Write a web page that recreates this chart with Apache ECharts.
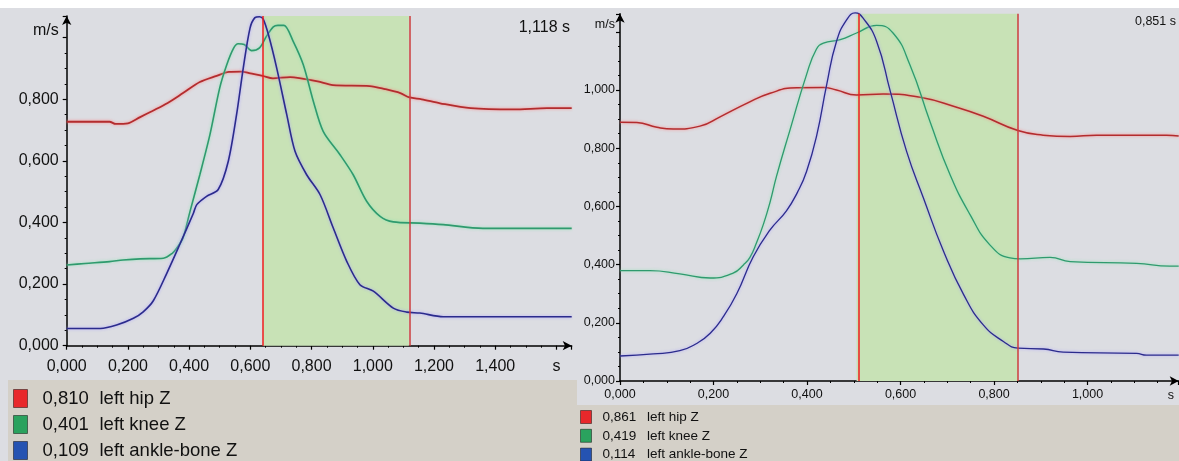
<!DOCTYPE html>
<html>
<head>
<meta charset="utf-8">
<script src="https://cdn.jsdelivr.net/npm/echarts@6/dist/echarts.min.js"></script>
<style>
html,body{margin:0;padding:0;background:#fff;}
#c{width:1179px;height:461px;}
</style>
</head>
<body>
<div id="c"></div>
<script>
// ---------- DATA ----------
const seriesNames = ['left hip Z', 'left knee Z', 'left ankle-bone Z'];

// Left chart: [time s, speed m/s]
const leftHip = [[0,0.727],[0.14,0.727],[0.16,0.72],[0.2,0.722],[0.24,0.742],[0.28,0.762],[0.33,0.788],[0.38,0.82],[0.435,0.856],[0.49,0.876],[0.53,0.889],[0.57,0.89],[0.6,0.884],[0.64,0.876],[0.674,0.868],[0.73,0.872],[0.76,0.869],[0.82,0.858],[0.87,0.846],[0.99,0.843],[1.04,0.833],[1.09,0.82],[1.12,0.806],[1.16,0.8],[1.22,0.787],[1.32,0.771],[1.46,0.767],[1.57,0.771],[1.65,0.771]];
const leftKnee = [[0,0.262],[0.06,0.267],[0.14,0.273],[0.184,0.278],[0.24,0.282],[0.316,0.284],[0.345,0.3],[0.36,0.317],[0.38,0.35],[0.403,0.436],[0.435,0.555],[0.468,0.685],[0.5,0.837],[0.523,0.912],[0.545,0.965],[0.56,0.98],[0.58,0.978],[0.604,0.958],[0.63,0.967],[0.653,1.005],[0.675,1.035],[0.69,1.04],[0.71,1.04],[0.74,0.988],[0.773,0.912],[0.806,0.793],[0.838,0.696],[0.893,0.62],[0.936,0.555],[0.98,0.469],[1.024,0.42],[1.067,0.402],[1.154,0.398],[1.23,0.393],[1.36,0.381],[1.65,0.381]];
const leftAnkle = [[0,0.056],[0.11,0.056],[0.163,0.067],[0.218,0.089],[0.25,0.11],[0.283,0.146],[0.327,0.235],[0.37,0.33],[0.414,0.43],[0.425,0.458],[0.457,0.485],[0.495,0.507],[0.528,0.599],[0.555,0.75],[0.577,0.902],[0.599,1.031],[0.615,1.065],[0.63,1.068],[0.642,1.06],[0.659,1.01],[0.686,0.902],[0.719,0.75],[0.746,0.631],[0.784,0.555],[0.828,0.49],[0.871,0.382],[0.915,0.274],[0.958,0.198],[1.002,0.177],[1.067,0.122],[1.111,0.109],[1.154,0.106],[1.23,0.094],[1.65,0.094]];
const leftCursor = [0.642, 1.118];            // s
const leftCursorValues = [0.810, 0.401, 0.109]; // m/s at cursor

// Right chart
const rightHip = [[0,0.889],[0.036,0.888],[0.079,0.872],[0.114,0.866],[0.171,0.876],[0.214,0.908],[0.271,0.954],[0.321,0.989],[0.378,1.008],[0.435,1.009],[0.463,1.0],[0.506,0.983],[0.563,0.986],[0.642,0.975],[0.72,0.941],[0.777,0.91],[0.851,0.861],[0.905,0.845],[0.963,0.84],[1.019,0.845],[1.169,0.845],[1.195,0.842]];
const rightKnee = [[0,0.379],[0.064,0.379],[0.128,0.368],[0.193,0.354],[0.242,0.371],[0.264,0.399],[0.278,0.425],[0.292,0.475],[0.307,0.54],[0.321,0.615],[0.335,0.705],[0.364,0.865],[0.399,1.053],[0.42,1.14],[0.435,1.161],[0.471,1.173],[0.506,1.196],[0.549,1.222],[0.584,1.196],[0.62,1.087],[0.663,0.892],[0.706,0.709],[0.749,0.571],[0.791,0.468],[0.834,0.423],[0.856,0.42],[0.92,0.425],[0.963,0.41],[1.105,0.404],[1.176,0.395],[1.195,0.395]];
const rightAnkle = [[0,0.086],[0.071,0.093],[0.128,0.104],[0.164,0.129],[0.193,0.164],[0.221,0.221],[0.25,0.301],[0.285,0.427],[0.321,0.519],[0.356,0.585],[0.38,0.65],[0.399,0.72],[0.421,0.846],[0.442,1.018],[0.463,1.167],[0.485,1.242],[0.503,1.265],[0.52,1.247],[0.549,1.167],[0.578,0.996],[0.613,0.789],[0.649,0.629],[0.692,0.446],[0.735,0.297],[0.777,0.193],[0.82,0.136],[0.851,0.113],[0.906,0.11],[0.948,0.099],[1.105,0.095],[1.126,0.089],[1.195,0.089]];
const rightCursor = [0.506, 0.851];
const rightCursorValues = [0.861, 0.419, 0.114];

// axis settings
const leftXMax = 1.65, leftYMax = 1.07, leftXUnitTick = 1.6, leftYUnitTick = 1.0;
const rightXMax = 1.195, rightYMax = 1.262, rightYUnitTick = 1.2;

// ---------- STYLE ----------
const FONT = 'Liberation Sans, Arial, sans-serif';
const lineColors = ['#b32c2e', '#2f9a6e', '#2b2b8c'];
const haloColors = ['rgba(255,130,130,0.9)', 'rgba(140,230,180,0.9)', 'rgba(170,160,255,0.9)'];
const iconColors = ['#e8282b', '#2aa25e', '#2553b2'];
const fmt = v => v.toFixed(3).replace('.', ',');
const near = (a, b) => Math.abs(a - b) < 1e-6;

function xAxisCfg(grid, max, fontSize, margin, unitTick) {
  return {
    type: 'value', gridIndex: grid, min: 0, max: max, interval: 0.2,
    axisLine: { show: true, onZero: false, symbol: ['none', 'arrow'], symbolSize: [7, 9], lineStyle: { color: '#000', width: 1.5 } },
    axisTick: { show: true, length: 4, lineStyle: { color: '#000', width: 1.2 } },
    minorTick: { show: true, splitNumber: 4, length: 2, lineStyle: { color: '#000', width: 1 } },
    splitLine: { show: false },
    axisLabel: { fontFamily: FONT, fontSize: fontSize, color: '#111', margin: margin, showMaxLabel: false,
      formatter: v => (unitTick !== null && near(v, unitTick)) ? 's' : fmt(v) }
  };
}
function yAxisCfg(grid, max, fontSize, margin, unitTick, lift) {
  return {
    type: 'value', gridIndex: grid, min: 0, max: max, interval: 0.2,
    axisLine: { show: true, onZero: false, symbol: ['none', 'arrow'], symbolSize: [7, 9], lineStyle: { color: '#000', width: 1.5 } },
    axisTick: { show: true, length: 4, lineStyle: { color: '#000', width: 1.2 } },
    minorTick: { show: true, splitNumber: 4, length: 2, lineStyle: { color: '#000', width: 1 } },
    splitLine: { show: false },
    axisLabel: { fontFamily: FONT, fontSize: fontSize, color: '#111', margin: margin, showMaxLabel: false,
      formatter: v => near(v, unitTick) ? '{u|m/s}' : fmt(v),
      rich: { u: { fontFamily: FONT, fontSize: fontSize, color: '#111', padding: [0, 0, lift, 0] } } }
  };
}

function lineSeries(data, idx, xi, yi, width, smooth) {
  return {
    type: 'line', name: seriesNames[idx], xAxisIndex: xi, yAxisIndex: yi, data: data,
    showSymbol: false, smooth: smooth, clip: false, z: 3,
    lineStyle: { color: lineColors[idx], width: width, shadowColor: haloColors[idx], shadowBlur: 3 },
    itemStyle: { color: iconColors[idx] }
  };
}

function cursorSeries(cursor, xi, yi) {
  return {
    type: 'line', name: 'cursor', xAxisIndex: xi, yAxisIndex: yi, data: [], z: 1, silent: true,
    markArea: { silent: true, itemStyle: { color: '#c8e2b6' }, data: [[{ xAxis: cursor[0] }, { xAxis: cursor[1] }]] },
    markLine: { silent: true, symbol: 'none', label: { show: false },
      data: [ { xAxis: cursor[0], lineStyle: { color: '#f01c1c', width: 1.5, type: 'solid' } },
              { xAxis: cursor[1], lineStyle: { color: '#cc3c3c', width: 1.5, type: 'solid' } } ] }
  };
}

function legendCfg(left, top, iw, ih, gap, fontSize, lineH, textPad, valWidth, values) {
  return {
    orient: 'vertical', left: left, top: top, itemWidth: iw, itemHeight: ih, itemGap: gap,
    icon: 'rect', selectedMode: false, padding: 0, height: 80,
    itemStyle: { borderColor: 'rgba(0,0,0,0.45)', borderWidth: 1 },
    data: seriesNames.map((n, i) => ({ name: n, itemStyle: { color: iconColors[i] } })),
    formatter: name => '{v|' + fmt(values[seriesNames.indexOf(name)]) + '}{n|' + name + '}',
    textStyle: { fontFamily: FONT, fontSize: fontSize, lineHeight: lineH, color: '#111', padding: [0, 0, 0, textPad],
      rich: { v: { fontFamily: FONT, fontSize: fontSize, lineHeight: lineH, color: '#111', width: valWidth },
              n: { fontFamily: FONT, fontSize: fontSize, lineHeight: lineH, color: '#111' } } }
  };
}

const option = {
  animation: false,
  backgroundColor: '#ffffff',
  graphic: [
    { type: 'rect', z: -100, silent: true, shape: { x: 0, y: 8, width: 577, height: 372 }, style: { fill: '#dcdde2' } },
    { type: 'rect', z: -100, silent: true, shape: { x: 8, y: 380, width: 569, height: 81 }, style: { fill: '#d4d0c8' } },
    { type: 'rect', z: -100, silent: true, shape: { x: 0, y: 380, width: 8, height: 81 }, style: { fill: '#dcdde2' } },
    { type: 'rect', z: -100, silent: true, shape: { x: 577, y: 8, width: 602, height: 397 }, style: { fill: '#dcdde2' } },
    { type: 'rect', z: -100, silent: true, shape: { x: 577, y: 405, width: 602, height: 56 }, style: { fill: '#d4d0c8' } }
  ],
  title: [
    { text: fmt(leftCursor[1]) + ' s', right: 609, top: 20, padding: 0,
      textStyle: { fontFamily: FONT, fontSize: 16, fontWeight: 'normal', color: '#111' } },
    { text: fmt(rightCursor[1]) + ' s', right: 3, top: 15, padding: 0,
      textStyle: { fontFamily: FONT, fontSize: 12.5, fontWeight: 'normal', color: '#111' } }
  ],
  legend: [
    legendCfg(13, 389, 14, 18, 7, 18.5, 18, 10, 57, leftCursorValues),
    legendCfg(580, 410, 11, 13, 4.8, 13.5, 13, 6, 44.5, rightCursorValues)
  ],
  grid: [
    { left: 66.7, top: 16.1, width: 505, height: 329.6 },
    { left: 620, top: 13.8, width: 558.7, height: 367.2 }
  ],
  xAxis: [
    xAxisCfg(0, leftXMax, 16, 13, leftXUnitTick),
    Object.assign(xAxisCfg(1, rightXMax, 12.5, 7, null), {
      name: 's', nameLocation: 'end', nameGap: -11,
      nameTextStyle: { fontFamily: FONT, fontSize: 12.5, color: '#111', verticalAlign: 'top', padding: [8, 0, 0, 0] }
    })
  ],
  yAxis: [
    yAxisCfg(0, leftYMax, 16, 8, leftYUnitTick, 14),
    yAxisCfg(1, rightYMax, 12.5, 5, rightYUnitTick, 14)
  ],
  series: [
    cursorSeries(leftCursor, 0, 0),
    lineSeries(leftHip, 0, 0, 0, 1.8, 0.3),
    lineSeries(leftKnee, 1, 0, 0, 1.6, 0.3),
    lineSeries(leftAnkle, 2, 0, 0, 1.6, 0.3),
    cursorSeries(rightCursor, 1, 1),
    lineSeries(rightHip, 0, 1, 1, 1.5, 0.5),
    lineSeries(rightKnee, 1, 1, 1, 1.3, 0.5),
    lineSeries(rightAnkle, 2, 1, 1, 1.3, 0.5)
  ]
};

const chart = echarts.init(document.getElementById('c'), null, { renderer: 'canvas' });
chart.setOption(option);
</script>
</body>
</html>
